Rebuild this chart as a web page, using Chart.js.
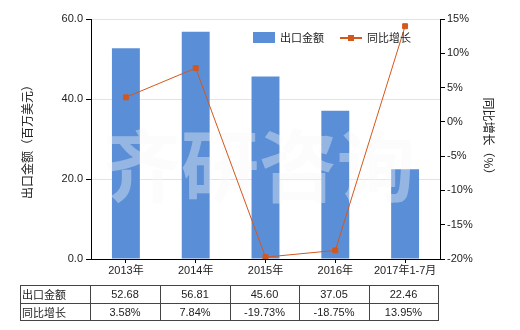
<!DOCTYPE html>
<html lang="zh">
<head>
<meta charset="UTF-8">
<title>出口金额及同比增长</title>
<script src="https://cdn.jsdelivr.net/npm/chart.js"></script>
<style>
  body { margin: 0; background: #fff; }
  #wrap { width: 520px; height: 330px; }
</style>
</head>
<body>
<div id="wrap"><canvas id="c" width="520" height="330"></canvas></div>
<script>
const categories = ["2013年", "2014年", "2015年", "2016年", "2017年1-7月"];
const exportValues = [52.68, 56.81, 45.60, 37.05, 22.46];
const growthValues = [3.58, 7.84, -19.73, -18.75, 13.95];
const exportLabels = ["52.68", "56.81", "45.60", "37.05", "22.46"];
const growthLabels = ["3.58%", "7.84%", "-19.73%", "-18.75%", "13.95%"];

const FONT = "'Liberation Sans', 'Noto Sans CJK SC', sans-serif";
const CJK = "'Noto Sans CJK SC', sans-serif";
const barColor = "#5a8fd7";
const lineColor = "#d4571c";

// watermark (between bars and line), legend, and the data table under the axis
const extras = {
  id: "extras",
  afterDatasetDraw(chart, args) {
    if (args.index !== 1) return;
    const ctx = chart.ctx;
    ctx.save();
    ctx.font = "bold 78px " + CJK;
    ctx.fillStyle = "rgba(246,246,246,0.38)";
    ctx.textAlign = "center";
    ctx.textBaseline = "middle";
    ctx.fillText("齐研咨询", 259, 166);
    ctx.restore();
  },
  afterDraw(chart) {
    const ctx = chart.ctx;
    const x = chart.scales.x;
    ctx.save();
    // legend
    ctx.fillStyle = barColor;
    ctx.fillRect(253, 32, 22, 11);
    ctx.fillStyle = "#222";
    ctx.font = "11px " + CJK;
    ctx.textBaseline = "middle";
    ctx.fillText("出口金额", 280, 38);
    ctx.strokeStyle = lineColor;
    ctx.lineWidth = 2;
    ctx.beginPath(); ctx.moveTo(340, 38); ctx.lineTo(362, 38); ctx.stroke();
    ctx.fillStyle = lineColor;
    ctx.fillRect(348, 35, 6, 6);
    ctx.fillStyle = "#222";
    ctx.fillText("同比增长", 367, 38);

    // table
    const top = 285, mid = 303, bottom = 320, left = 20, firstCol = 90;
    const right = 438;
    ctx.strokeStyle = "#444";
    ctx.lineWidth = 1;
    ctx.beginPath();
    [top, mid, bottom].forEach(y => { ctx.moveTo(left, y + 0.5); ctx.lineTo(right + 1, y + 0.5); });
    const half = (x.getPixelForValue(1) - x.getPixelForValue(0)) / 2;
    const edges = [left, firstCol];
    for (let i = 0; i < categories.length; i++) {
      edges.push(Math.round(x.getPixelForValue(i) + half) - 1);
    }
    edges[edges.length - 1] = right;
    edges.forEach(ex => { ctx.moveTo(ex + 0.5, top); ctx.lineTo(ex + 0.5, bottom + 1); });
    ctx.stroke();

    ctx.fillStyle = "#222";
    ctx.textBaseline = "middle";
    ctx.textAlign = "left";
    ctx.font = "11px " + CJK;
    ctx.fillText("出口金额", left + 2, (top + mid) / 2 + 1);
    ctx.fillText("同比增长", left + 2, (mid + bottom) / 2 + 1);
    ctx.textAlign = "center";
    ctx.font = "11px " + FONT;
    for (let i = 0; i < categories.length; i++) {
      const cx = (edges[i + 1] + edges[i + 2]) / 2;
      ctx.fillText(exportLabels[i], cx, (top + mid) / 2 + 1);
      ctx.fillText(growthLabels[i], cx, (mid + bottom) / 2 + 1);
    }
    ctx.restore();
  }
};

new Chart(document.getElementById("c"), {
  data: {
    labels: categories,
    datasets: [
      {
        type: "line",
        label: "同比增长",
        data: growthValues,
        yAxisID: "y2",
        borderColor: lineColor,
        backgroundColor: lineColor,
        borderWidth: 1,
        pointStyle: "rect",
        pointRadius: 3.5,
        tension: 0,
        order: 0
      },
      {
        type: "bar",
        label: "出口金额",
        data: exportValues,
        yAxisID: "y",
        backgroundColor: barColor,
        categoryPercentage: 1,
        barPercentage: 0.4,
        order: 1
      }
    ]
  },
  options: {
    responsive: false,
    animation: false,
    layout: { padding: { left: 0, right: 0, top: 19, bottom: 0 } },
    plugins: { legend: { display: false }, tooltip: { enabled: false } },
    scales: {
      x: {
        offset: true,
        grid: { drawOnChartArea: false, offset: false, tickColor: "#000", tickLength: 4 },
        border: { color: "#000" },
        ticks: { color: "#222", font: { size: 11, family: FONT }, padding: 1, maxRotation: 0 },
        afterFit(s) { s.height = 71; }
      },
      y: {
        position: "left",
        min: 0, max: 60,
        ticks: { stepSize: 20, color: "#222", font: { size: 11, family: FONT }, padding: 3,
                 callback: v => v.toFixed(1) },
        grid: { color: "#e3e3e3", tickColor: "#000", tickLength: 5 },
        border: { color: "#000" },
        title: { display: true, text: "出口金额（百万美元）", color: "#222",
                 font: { size: 12, family: CJK }, padding: { top: 20, bottom: 0 } },
        afterFit(s) { s.width = 91; }
      },
      y2: {
        position: "right",
        min: -20, max: 15,
        ticks: { stepSize: 5, color: "#222", font: { size: 11, family: FONT }, padding: 2,
                 callback: v => v + "%" },
        grid: { drawOnChartArea: false, tickColor: "#000", tickLength: 5 },
        border: { color: "#000" },
        title: { display: true, text: "同比增长（%）", color: "#222",
                 font: { size: 12, family: CJK }, padding: { top: 24, bottom: 0 } },
        afterFit(s) { s.width = 80; }
      }
    }
  },
  plugins: [extras]
});
</script>
</body>
</html>
